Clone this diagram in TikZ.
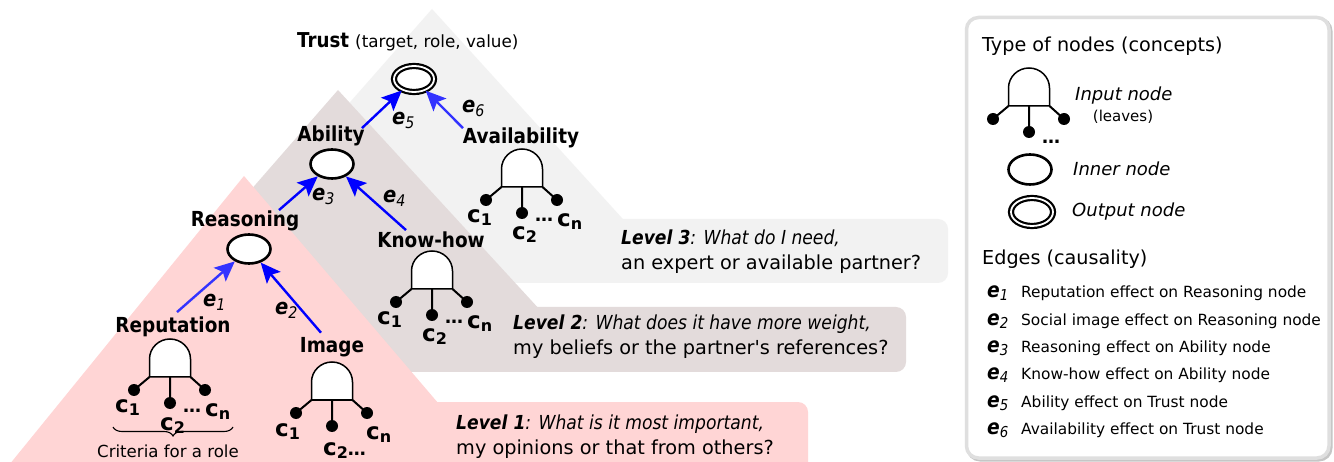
\documentclass[tikz,border=0pt]{standalone}
\usepackage{fontspec}
\setmainfont{DejaVu Sans}
\newfontfamily\condfont{DejaVu Sans}[FakeStretch=0.89]
\usetikzlibrary{arrows.meta,shapes.geometric,decorations.pathreplacing}

\definecolor{levelA}{HTML}{FFD5D5}
\definecolor{levelB}{HTML}{E3DBDB}
\definecolor{levelC}{HTML}{F2F2F2}
\definecolor{edgeblue}{HTML}{0000FF}
\definecolor{edgeblueL}{HTML}{3333FF}

\newcommand\fsz[2]{\fontsize{#1pt}{#2pt}\selectfont}
\newcommand\cvar[1]{{\bfseries\fsz{23}{23}c\raisebox{-3pt}{\fsz{16}{16}#1}}}
\newcommand\evar[1]{{\condfont\bfseries\itshape\fsz{22}{22}e\raisebox{-3.5pt}{\mdseries\fsz{16}{16}#1}}}
\newcommand\evarS[1]{{\condfont\bfseries\itshape\fsz{21}{21}e\raisebox{-3pt}{\mdseries\fsz{15}{15}#1}}}
\newcommand\ldotsym{{\bfseries\fsz{18}{18}…}}

% dome with three legs ending in dots (input node)
\newcommand\leafbody{%
  \draw[domeline] (-20.5,0) -- (-20.5,-18)
     .. controls (-20.5,-29) and (-11.3,-38) .. (0,-38)
     .. controls (11.3,-38) and (20.5,-29) .. (20.5,-18) -- (20.5,0) -- cycle;
  \draw[legline] (-20.5,0) -- (-36,13) (0,0) -- (0,26) (20.5,0) -- (35,13);
  \fill (-36,13) circle[radius=6] (0,26) circle[radius=6] (35,13) circle[radius=6];
}

\tikzset{
  lab/.style={inner sep=0pt, anchor=base, font=\condfont\bfseries\fsz{20.7}{24}},
  elab/.style={inner sep=0pt, anchor=base west},
  clab/.style={inner sep=0pt, anchor=base west},
  innernode/.style={ellipse, draw, fill=white, line width=2.6pt, inner sep=0pt,
                    minimum width=43pt, minimum height=29pt},
  outnode/.style={ellipse, draw, double, fill=white, line width=2.2pt,
                  double distance=1.8pt, inner sep=0pt,
                  minimum width=40pt, minimum height=26pt},
  domeline/.style={line width=1.5pt, fill=white},
  legline/.style={line width=2pt},
  arr/.style={line width=2.4pt, -{Stealth[length=20pt,width=18pt,inset=4pt]}},
  lvtext/.style={inner sep=0pt, anchor=base west, font=\fsz{19.3}{25}},
  keytext/.style={inner sep=0pt, anchor=base west},
  leaf/.pic={\leafbody
    \node[clab] (-c1) at (-55,36) {\cvar{1}};
    \node[clab] (-c2) at (-10,53) {\cvar{2}};
    \node[clab] (-dots) at (13,35) {\ldotsym};
    \node[clab] (-cn) at (35,40) {\cvar{n}};
  },
  leafalt/.pic={\leafbody
    \node[clab] (-c1) at (-57,36) {\cvar{1}};
    \node[clab] (-c2) at (-9,55) {\cvar{2}\ldotsym};
    \node[clab] (-cn) at (34,39) {\cvar{n}};
  },
  leafkey/.pic={\leafbody
    \node[clab] (-dots) at (13,38) {\ldotsym};
  },
}

\begin{document}
\begin{tikzpicture}[x=1pt,y=-1pt]
\useasboundingbox (0,0) rectangle (1334,462);
\fill[white] (0,0) rectangle (1334,462);

% ---- level 3 (back)
\fill[levelC] (432,9) -- (681,283) -- (191,283) -- cycle;
\fill[levelC, rounded corners=10pt] (520,219) rectangle (948,283);
% ---- level 2
\fill[levelB] (338,90) -- (597,372) -- (92,372) -- cycle;
\fill[levelB, rounded corners=10pt] (420,307) rectangle (906,372);
% ---- level 1 (front)
\fill[levelA] (244,176) -- (509,486) -- (-8,486) -- cycle;
\fill[levelA, rounded corners=10pt] (380,402) rectangle (808,490);

% ---- level questions
\node[lvtext] (lv3) at (621,245) {\vtop{\hbox{{\condfont\bfseries\itshape Level 3}{\condfont\itshape: What do I need,}}\hbox{an expert or available partner?}}};
\node[lvtext] (lv2) at (513,330) {\vtop{\hbox{{\condfont\bfseries\itshape Level 2}{\condfont\itshape: What does it have more weight,}}\hbox{my beliefs or the partner\textquotesingle s references?}}};
\node[lvtext] (lv1) at (456,429) {\vtop{\hbox{{\condfont\bfseries\itshape Level 1}{\condfont\itshape: What is it most important,}}\hbox{my opinions or that from others?}}};

% ---- concept nodes
\node[inner sep=0pt, anchor=base west] (trustlab) at (297,48)
  {{\condfont\bfseries\fsz{20.5}{24}Trust}\hspace{6pt}{\fsz{16.8}{20}(target, role, value)}};
\node[outnode] (trust) at (414,79) {};

\node[lab] (ablab) at (331,142) {Ability};
\node[innernode] (ability) at (332,164) {};
\node[lab] (avlab) at (521,144) {Availability};
\pic (av) at (522,187) {leaf};

\node[lab] (reaslab) at (245,227) {Reasoning};
\node[innernode] (reas) at (249,249) {};
\node[lab] (khlab) at (431,248) {Know-how};
\pic (kh) at (432,289) {leaf};

\node[lab] (replab) at (173,333) {Reputation};
\pic (rep) at (170,377) {leaf};
\node[lab] (imglab) at (332,353) {Image};
\pic (img) at (332,400) {leafalt};

% brace gathering the criteria of the Reputation leaves
\coordinate (bl) at (113,427);
\coordinate (br) at (233,427);
\draw[decorate, decoration={brace, mirror, amplitude=9pt}, line width=1.1pt] (bl) -- (br);
\node[inner sep=0pt, anchor=base] (crit) at (168,457) {\fsz{16.6}{20}Criteria for a role};

% ---- causal edges
\draw[arr, draw=edgeblueL] ([xshift=4pt,yshift=5pt]replab.north) -- (reas);
\draw[arr, draw=edgeblue] ([xshift=-11pt,yshift=5pt]imglab.north) -- (reas);
\draw[arr, draw=edgeblue] ([xshift=34pt,yshift=1pt]reaslab.north) -- (ability);
\draw[arr, draw=edgeblue] ([xshift=-25pt,yshift=2pt]khlab.north) -- (ability);
\draw[arr, draw=edgeblue] ([xshift=31pt,yshift=-2pt]ablab.north) -- (trust);
\draw[arr, draw=edgeblueL] ([xshift=-58pt,yshift=0pt]avlab.north) -- (trust);

\node[elab] (e1) at (203,307) {\evar{1}};
\node[elab] (e2) at (275,315) {\evar{2}};
\node[elab] (e3) at (312,201) {\evar{3}};
\node[elab] (e4) at (383,203) {\evar{4}};
\node[elab] (e5) at (392,125) {\evar{5}};
\node[elab] (e6) at (462,113) {\evar{6}};

% ---- key
\draw[gray!45, line width=3pt, rounded corners=12pt] (968,19) rectangle (1331,460);
\draw[gray!25, line width=3.5pt, fill=white, rounded corners=12pt] (966.5,17.5) rectangle (1329,458);

\node[keytext] (lgtitle) at (982,52) {\fsz{19.2}{23}Type of nodes (concepts)};
\pic (lgleaf) at (1029,106) {leafkey};
\node[keytext] (lginput) at (1075,101) {\fsz{18}{22}\itshape Input node};
\node[inner sep=0pt, anchor=base] (lgleaves) at (1123,122) {\fsz{15}{18}(leaves)};
\node[innernode, minimum width=43pt, minimum height=30pt] (lginner) at (1030,169.5) {};
\node[keytext] (lginnertxt) at (1073,176) {\fsz{18}{22}\itshape Inner node};
\node[outnode, minimum width=42pt, minimum height=28pt] (lgout) at (1032,212) {};
\node[keytext] (lgouttxt) at (1072,217) {\fsz{18}{22}\itshape Output node};

\node[keytext] (lgedges) at (982,265) {\fsz{19.2}{23}Edges (causality)};
\begin{scope}[every node/.style={keytext, font=\fsz{15.4}{18}}]
\node (row1) at (987,298.0) {\makebox[34pt][l]{\evarS{1}}Reputation effect on Reasoning node};
\node (row2) at (987,325.3) {\makebox[34pt][l]{\evarS{2}}Social image effect on Reasoning node};
\node (row3) at (987,352.6) {\makebox[34pt][l]{\evarS{3}}Reasoning effect on Ability node};
\node (row4) at (987,379.9) {\makebox[34pt][l]{\evarS{4}}Know-how effect on Ability node};
\node (row5) at (987,407.2) {\makebox[34pt][l]{\evarS{5}}Ability effect on Trust node};
\node (row6) at (987,434.5) {\makebox[34pt][l]{\evarS{6}}Availability effect on Trust node};
\end{scope}
\end{tikzpicture}
\end{document}
